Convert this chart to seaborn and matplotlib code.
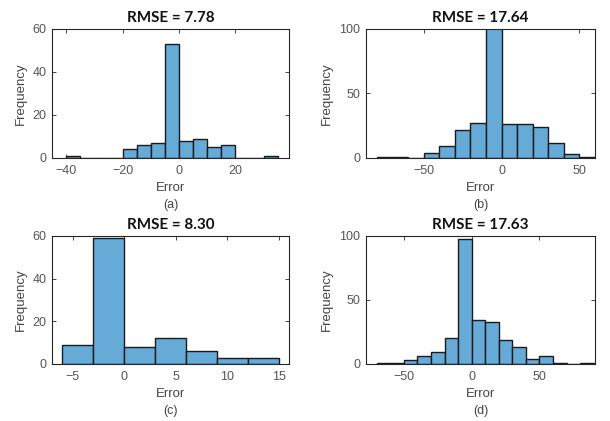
import numpy as np
import pandas as pd
import matplotlib
matplotlib.use("Agg")
import matplotlib.pyplot as plt
import seaborn as sns

# ---- data ----
titles = ["RMSE = 7.78", "RMSE = 17.64", "RMSE = 8.30", "RMSE = 17.63"]
sublabels = ["(a)", "(b)", "(c)", "(d)"]

edges_a = [-40, -35, -30, -25, -20, -15, -10, -5, 0, 5, 10, 15, 20, 25, 30, 35]
counts_a = [1, 0, 0, 0, 4, 6, 7, 53, 8, 9, 5, 6, 0, 0, 1]

edges_b = [-80, -70, -60, -50, -40, -30, -20, -10, 0, 10, 20, 30, 40, 50, 60]
counts_b = [1, 1, 0, 4, 9, 22, 27, 102, 26, 26, 24, 12, 3, 1]

edges_c = [-6, -3, 0, 3, 6, 9, 12, 15]
counts_c = [9, 59, 8, 12, 6, 3, 3]

edges_d = [-70, -60, -50, -40, -30, -20, -10, 0, 10, 20, 30, 40, 50, 60, 70, 80, 90]
counts_d = [1, 1, 3, 6, 9, 20, 98, 34, 33, 19, 13, 4, 6, 1, 0, 1]

xlims = [(-45, 39), (-87, 60), (-7, 16), (-78, 91)]
ylims = [(0, 60), (0, 100), (0, 60), (0, 100)]
xticks = [[-40, -20, 0, 20], [-50, 0, 50], [-5, 0, 5, 10, 15], [-50, 0, 50]]
yticks = [[0, 20, 40, 60], [0, 50, 100], [0, 20, 40, 60], [0, 50, 100]]

sns.set_theme(style="white")
plt.rcParams["font.family"] = ["Liberation Sans", "DejaVu Sans"]

W, H = 610, 421
fig = plt.figure(figsize=(W / 100, H / 100), dpi=100)

# axes boxes in pixels: left, top, right, bottom
boxes = [(52, 29, 289, 158), (366, 29, 595, 158), (52, 236, 289, 364), (366, 236, 595, 364)]
ylabel_x = [21, 327, 21, 327]

face = "#66AAD7"
tickcol = "#555555"
datasets = [(edges_a, counts_a), (edges_b, counts_b), (edges_c, counts_c), (edges_d, counts_d)]

for i, ((edges, counts), (l, t, r, b)) in enumerate(zip(datasets, boxes)):
    aw, ah = r - l, b - t
    ax = fig.add_axes([l / W, 1 - b / H, aw / W, ah / H])
    e = [float(v) for v in edges]
    centers = [(e[k] + e[k + 1]) / 2 for k in range(len(e) - 1)]
    df = pd.DataFrame({"Error": centers, "count": [float(c) for c in counts]})
    sns.histplot(data=df, x="Error", weights="count", bins=e, ax=ax,
                 color=face, alpha=1.0, edgecolor="#1a1a1a", linewidth=1.0)
    ax.set_xlim(*xlims[i])
    ax.set_ylim(*ylims[i])
    ax.set_xticks(xticks[i])
    ax.set_yticks(yticks[i])
    ax.tick_params(direction="in", length=3, width=0.6, colors="#262626",
                   labelcolor=tickcol, labelsize=9, top=True, right=True,
                   bottom=True, left=True)
    ax.tick_params(axis="x", pad=5)
    ax.tick_params(axis="y", pad=4)
    for s in ax.spines.values():
        s.set_color("#262626")
        s.set_linewidth(0.8)
        s.set_visible(True)
    ax.set_xlabel("Error", fontsize=9.5, color="#444444")
    ax.xaxis.set_label_coords(0.5, -30 / ah)
    ax.xaxis.label.set_verticalalignment("center")
    ax.set_ylabel("Frequency", fontsize=9.5, color="#444444")
    ax.yaxis.set_label_coords((ylabel_x[i] - l) / aw, 0.5)
    ax.yaxis.label.set_verticalalignment("center")
    ax.set_title(titles[i], fontsize=11, fontweight="bold", family=["Lato", "DejaVu Sans"],
                 color="#111111", pad=5)
    cx = (l + r) / 2 / W
    fig.text(cx, 1 - (b + 47) / H, sublabels[i], ha="center", va="center",
             fontsize=9, color="#444444")

fig.savefig("out.png", dpi=100)
